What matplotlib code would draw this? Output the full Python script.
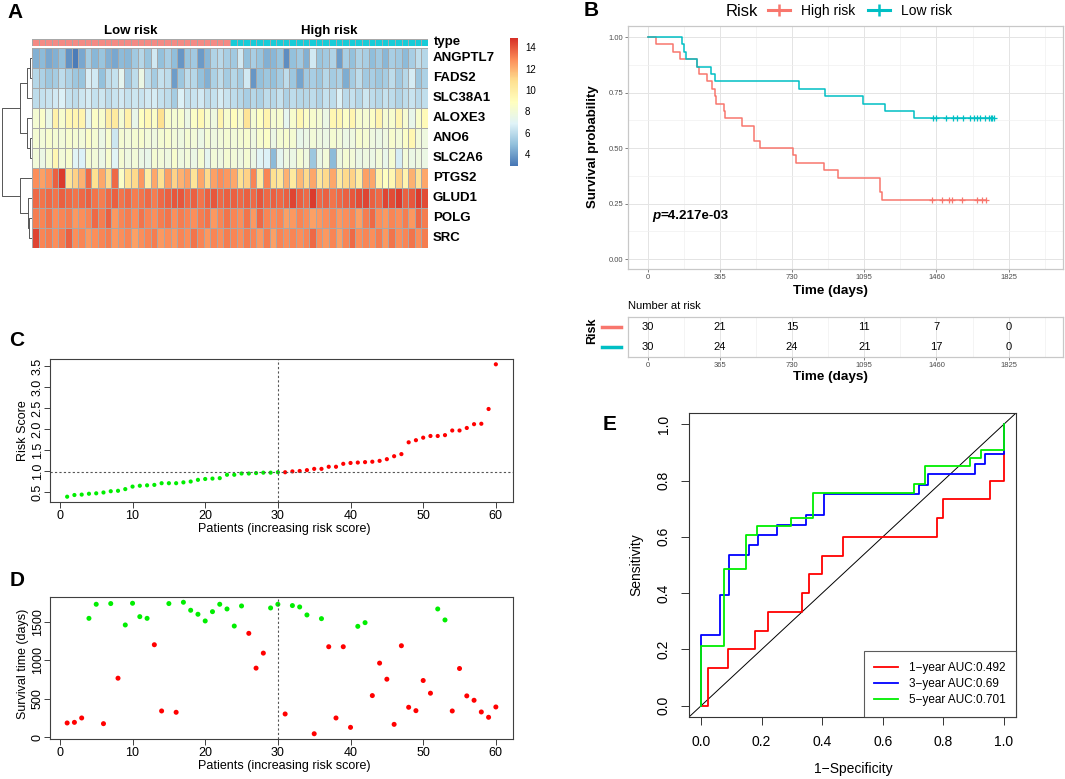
import numpy as np
import matplotlib
matplotlib.use('Agg')
import matplotlib.pyplot as plt
from matplotlib.colors import LinearSegmentedColormap, ListedColormap, Normalize
from matplotlib.cm import ScalarMappable
from matplotlib.lines import Line2D
import matplotlib.transforms as mtransforms

plt.rcParams['font.family'] = ['Liberation Sans', 'DejaVu Sans']

# ---------------- data ----------------
genes = ['ANGPTL7', 'FADS2', 'SLC38A1', 'ALOXE3', 'ANO6', 'SLC2A6', 'PTGS2', 'GLUD1', 'POLG', 'SRC']
group_names = ['Low risk', 'High risk']
n_low, n_high = 30, 30

angptl7 = [4.5, 4.8, 4.3, 4.5, 5.0, 3.7, 3.1, 4.3, 5.4, 4.7, 5.1, 4.5, 4.3, 4.8, 4.7, 5.3, 5.8, 5.1, 6.5, 5.0,
           5.5, 4.9, 3.8, 5.1, 5.3, 3.9, 4.7, 5.7, 5.9, 5.5,
           5.3, 6.5, 5.0, 5.5, 5.1, 4.5, 4.7, 5.1, 3.6, 5.0, 5.3, 4.5, 6.5, 5.1, 5.3, 5.7, 4.0, 5.5, 5.0, 5.7,
           5.5, 4.9, 5.3, 4.7, 5.5, 5.3, 4.8, 5.5, 6.1, 5.8]
fads2 = [5.8, 5.6, 5.2, 5.4, 6.0, 5.6, 5.2, 5.1, 6.7, 6.5, 5.0, 6.0, 6.2, 7.2, 5.3, 6.0, 7.6, 6.0, 5.4, 6.2,
         6.0, 4.0, 5.2, 6.0, 5.8, 5.0, 4.5, 5.6, 6.0, 5.4,
         5.8, 5.4, 6.5, 3.8, 5.0, 5.2, 5.0, 5.4, 6.0, 5.2, 4.2, 5.3, 5.5, 5.2, 5.8, 5.4, 5.6, 4.4, 5.4, 6.0,
         5.3, 5.5, 5.2, 5.4, 6.0, 5.3, 5.8, 6.6, 5.2, 5.6]
slc38a1 = [6.0, 6.2, 6.3, 6.5, 6.8, 6.2, 6.0, 6.4, 6.6, 6.2, 6.4, 6.0, 6.3, 6.5, 6.2, 6.4, 6.3, 6.5, 6.6, 6.2,
           6.0, 5.4, 6.8, 6.2, 6.3, 6.5, 6.0, 6.2, 6.6, 6.3,
           6.0, 5.8, 5.5, 5.8, 5.6, 6.0, 5.8, 6.2, 5.6, 6.0, 5.8, 5.8, 6.0, 5.7, 6.2, 6.0, 6.8, 5.9, 6.2, 5.8,
           6.4, 6.0, 5.8, 6.2, 6.0, 5.7, 6.0, 6.3, 5.9, 6.1]
aloxe3 = [8.2, 8.5, 7.5, 9.8, 8.4, 9.4, 9.5, 9.6, 7.2, 8.6, 8.4, 10.0, 10.2, 8.2, 9.8, 7.4, 8.8, 9.3, 8.6, 10.8,
          8.5, 8.2, 8.4, 7.6, 8.6, 9.3, 8.4, 7.8, 9.6, 8.4,
          9.0, 8.4, 10.6, 8.2, 8.8, 9.6, 8.2, 8.4, 7.2, 8.4, 9.4, 8.6, 8.4, 8.2, 7.6, 9.4, 9.4, 8.6, 9.5, 8.4,
          8.2, 8.6, 9.6, 8.2, 8.4, 9.5, 8.3, 7.4, 8.5, 9.2]
ano6 = [8.2, 8.0, 8.4, 8.2, 8.0, 8.4, 8.2, 8.0, 8.6, 8.2, 7.6, 8.4, 6.4, 8.2, 8.0, 8.2, 8.4, 8.0, 7.8, 8.2,
        8.4, 8.0, 7.8, 8.2, 8.0, 7.6, 8.2, 7.8, 8.0, 8.2,
        8.0, 8.2, 8.4, 7.8, 8.4, 8.6, 7.6, 8.2, 8.4, 8.2, 7.4, 7.6, 8.0, 7.8, 7.6, 8.2, 8.0, 7.6, 7.8, 8.4,
        8.2, 7.8, 7.6, 7.8, 8.4, 8.0, 8.6, 9.4, 8.0, 7.8]
slc2a6 = [8.0, 7.6, 8.2, 9.4, 8.0, 8.4, 7.0, 6.8, 8.2, 8.0, 7.6, 8.4, 7.0, 8.2, 7.8, 8.0, 7.6, 7.4, 8.2, 8.0,
          7.8, 8.4, 7.8, 8.0, 7.6, 8.2, 7.2, 8.0, 7.8, 8.2,
          8.0, 7.8, 8.2, 7.6, 7.0, 6.8, 4.8, 7.2, 7.8, 7.6, 8.2, 7.8, 5.2, 7.6, 8.0, 4.8, 7.8, 8.2, 8.0, 7.6,
          7.8, 7.6, 8.0, 7.4, 8.2, 6.6, 8.0, 7.6, 7.8, 7.6]
ptgs2 = [12.8, 12.4, 12.8, 13.8, 14.6, 10.6, 11.2, 12.0, 13.6, 10.8, 12.2, 11.0, 13.6, 8.6, 10.6, 11.0, 12.6,
         10.0, 12.2, 10.8, 12.4, 11.2, 12.0, 12.4, 10.6, 12.2, 11.0, 12.4, 12.8, 12.6,
         12.2, 10.8, 11.2, 13.0, 10.2, 13.0, 10.8, 10.4, 12.0, 10.2, 11.8, 11.0, 12.2, 10.4, 11.0, 12.2, 10.2,
         11.0, 11.2, 10.0, 12.4, 12.2, 9.6, 8.8, 9.4, 11.2, 9.6, 12.0, 10.6, 12.2]
glud1 = [13.6, 13.4, 13.6, 13.4, 13.8, 13.6, 13.4, 13.6, 13.8, 13.4, 13.2, 13.6, 13.8, 13.4, 13.6, 13.2, 13.4,
         13.6, 13.2, 13.6, 13.8, 14.0, 14.0, 13.6, 13.8, 13.4, 13.8, 14.0, 13.6, 13.8,
         13.8, 13.6, 13.8, 13.6, 14.0, 13.6, 13.8, 13.6, 13.8, 14.4, 13.8, 13.6, 14.6, 13.6, 13.8, 13.4, 13.6,
         13.8, 14.0, 14.2, 14.4, 13.8, 13.6, 14.4, 14.2, 14.6, 13.8, 14.0, 14.6, 14.2]
polg = [13.2, 13.0, 13.4, 12.8, 13.0, 13.2, 12.6, 12.8, 13.0, 13.6, 13.2, 13.8, 12.6, 13.0, 13.2, 12.8, 13.4,
        13.0, 12.8, 13.2, 13.4, 12.8, 13.2, 13.0, 12.8, 13.2, 13.4, 12.6, 13.0, 13.4,
        13.0, 12.8, 13.4, 12.6, 13.6, 13.0, 12.8, 13.0, 12.4, 12.6, 13.0, 12.8, 12.4, 12.6, 12.8, 13.0, 12.6,
        12.8, 13.0, 12.4, 13.2, 13.6, 12.8, 12.6, 13.0, 12.8, 13.2, 12.6, 13.6, 13.2]
src = [14.4, 13.0, 13.2, 12.8, 13.2, 13.8, 12.8, 13.0, 12.6, 12.8, 13.0, 13.2, 12.6, 12.8, 13.0, 12.4, 12.8,
       13.0, 13.2, 12.6, 12.8, 12.6, 13.0, 12.8, 13.4, 13.0, 12.6, 13.0, 12.8, 13.2,
       13.0, 12.8, 13.2, 13.0, 12.6, 13.2, 12.4, 13.0, 12.8, 13.0, 12.8, 13.0, 13.6, 12.8, 12.6, 13.0, 12.4,
       13.0, 13.6, 12.8, 13.0, 12.8, 13.2, 12.6, 13.4, 12.8, 13.0, 13.4, 12.8, 13.2]

# dendrogram merges: (left, right, height); leaves 0..9, new nodes 10..
row_merges = [(0, 1, 0.08), (10, 2, 0.16), (4, 5, 0.08), (3, 12, 0.17), (11, 13, 0.40),
              (8, 9, 0.09), (7, 15, 0.15), (6, 16, 0.40), (14, 17, 1.0)]
cbar_ticks = [4, 6, 8, 10, 12, 14]
heat_range = (2.9, 14.85)

risk_score = [0.40, 0.44, 0.45, 0.47, 0.48, 0.50, 0.53, 0.54, 0.58, 0.64, 0.66, 0.67, 0.68, 0.72, 0.72,
              0.72, 0.74, 0.76, 0.80, 0.82, 0.83, 0.84, 0.92, 0.92, 0.95, 0.95, 0.96, 0.97, 0.97, 0.98,
              0.98, 1.00, 1.01, 1.03, 1.06, 1.06, 1.11, 1.11, 1.18, 1.20, 1.21, 1.22, 1.23, 1.25, 1.29,
              1.36, 1.41, 1.69, 1.74, 1.80, 1.84, 1.84, 1.86, 1.97, 1.97, 2.03, 2.12, 2.13, 2.48, 3.54]
surv_time = [183, 191, 248, 1543, 1726, 174, 1735, 765, 1457, 1739, 1565, 1543, 1200, 339, 1735, 322, 1752,
             1648, 1596, 1509, 1630, 1726, 1665, 1443, 1704, 1348, 896, 1091, 1678, 1726,
             300, 1709, 1691, 1587, 43, 1539, 1174, 248, 1174, 126, 1439, 1487, 539, 961, 752, 165, 1187,
             387, 343, 735, 570, 1665, 1522, 339, 891, 535, 478, 326, 257, 391]
surv_status = [1, 1, 1, 0, 0, 1, 0, 1, 0, 0, 0, 0, 1, 1, 0, 1, 0, 0, 0, 0, 0, 0, 0, 0, 0, 1, 1, 1, 0, 0,
               1, 0, 0, 0, 1, 0, 1, 1, 1, 1, 0, 0, 1, 1, 1, 1, 1, 1, 1, 1, 1, 0, 0, 1, 1, 1, 1, 1, 1, 1]
km_breaks = [0, 365, 730, 1095, 1460, 1825]
p_text = '=4.217e-03'

roc1_fpr = [0, 0.022, 0.088, 0.177, 0.222, 0.333, 0.355, 0.399, 0.467, 0.778, 0.799, 0.955, 1.0]
roc1_tpr = [0, 0.133, 0.200, 0.267, 0.333, 0.400, 0.467, 0.533, 0.600, 0.667, 0.733, 0.800, 1.0]
roc3_fpr = [0, 0, 0.063, 0.093, 0.157, 0.189, 0.251, 0.345, 0.407, 0.720, 0.749, 0.905, 0.938, 1.0]
roc3_tpr = [0, 0.250, 0.393, 0.536, 0.572, 0.605, 0.643, 0.678, 0.751, 0.785, 0.822, 0.858, 0.893, 1.0]
roc5_fpr = [0, 0, 0.074, 0.148, 0.184, 0.296, 0.370, 0.704, 0.738, 0.889, 0.925, 1.0]
roc5_tpr = [0, 0.213, 0.485, 0.607, 0.638, 0.667, 0.757, 0.789, 0.850, 0.880, 0.909, 1.0]
roc_labels = ['1\u2212year AUC:0.492', '3\u2212year AUC:0.69', '5\u2212year AUC:0.701']

# ---------------- figure helpers ----------------
W, H = 1065, 779
fig = plt.figure(figsize=(W / 100, H / 100), dpi=100)


def rect(l, t, w, h):
    return [l / W, 1 - (t + h) / H, w / W, h / H]


def ftext(x, y, s, **kw):
    return fig.text(x / W, 1 - y / H, s, **kw)


for lab, (x, y) in zip('ABCDE', [(15, 12), (591, 11), (17, 341), (17, 581), (610, 424)]):
    ftext(x, y, lab, fontsize=15, fontweight='bold', ha='center', va='center')

# ---------------- A: heatmap ----------------
M = np.array([angptl7, fads2, slc38a1, aloxe3, ano6, slc2a6, ptgs2, glud1, polg, src])
ncol = M.shape[1]
cmap = LinearSegmentedColormap.from_list(
    'rdylbu', ['#4575B4', '#91BFDB', '#E0F3F8', '#FFFFBF', '#FEE090', '#FC8D59', '#D73027'])
norm = Normalize(*heat_range)

hm_l, hm_t, hm_w, hm_h = 32, 48, 396, 200
ax_hm = fig.add_axes(rect(hm_l, hm_t, hm_w, hm_h))
ax_hm.pcolormesh(np.arange(ncol + 1), np.arange(len(genes) + 1), M, cmap=cmap, norm=norm,
                 edgecolors='#A8A8A8', linewidth=0.5)
ax_hm.set_xlim(0, ncol)
ax_hm.set_ylim(len(genes), 0)
ax_hm.axis('off')
tr = mtransforms.blended_transform_factory(ax_hm.transAxes, ax_hm.transData)
for i, g in enumerate(genes):
    ax_hm.text(1 + 5 / hm_w, i + 0.5, g, transform=tr, fontsize=9.5, fontweight='bold',
               ha='left', va='center')

# annotation bar
ax_an = fig.add_axes(rect(hm_l, 39, hm_w, 7))
grp = np.array([[0] * n_low + [1] * n_high])
ax_an.pcolormesh(np.arange(ncol + 1), [0, 1], grp, cmap=ListedColormap(['#F48A84', '#17CCD8']),
                 edgecolors='#A8A8A8', linewidth=0.5)
ax_an.set_xlim(0, ncol)
ax_an.axis('off')
ftext(hm_l + hm_w * (n_low / 2) / ncol, 31, group_names[0], fontsize=9.5, fontweight='bold',
      ha='center', va='center')
ftext(hm_l + hm_w * (n_low + n_high / 2) / ncol, 31, group_names[1], fontsize=9.5, fontweight='bold',
      ha='center', va='center')
ftext(434, 42, 'type', fontsize=9.5, fontweight='bold', ha='left', va='center')

# colorbar
cax = fig.add_axes(rect(510, 38, 8, 128))
cb = fig.colorbar(ScalarMappable(norm=norm, cmap=cmap), cax=cax, ticks=cbar_ticks)
cb.outline.set_visible(False)
cax.tick_params(labelsize=7, length=2, width=0.5, color='white', pad=3)

# dendrogram
ax_dg = fig.add_axes(rect(0, hm_t, 32, hm_h))
pos = {i: i + 0.5 for i in range(len(genes))}
hgt = {i: 0.0 for i in range(len(genes))}
for k, (a, b, h) in enumerate(row_merges):
    nid = len(genes) + k
    ax_dg.plot([hgt[a], h, h, hgt[b]], [pos[a], pos[a], pos[b], pos[b]], color='#555555', lw=0.7)
    pos[nid] = (pos[a] + pos[b]) / 2
    hgt[nid] = h
ax_dg.set_xlim(1.07, 0)
ax_dg.set_ylim(len(genes), 0)
ax_dg.axis('off')

# ---------------- B: Kaplan-Meier ----------------
times = np.array(surv_time)
status = np.array(surv_status)
is_high = np.array([False] * n_low + [True] * n_high)
km_cols = {'High risk': '#F8766D', 'Low risk': '#00BFC4'}


def km_curve(t, e):
    order = np.argsort(t, kind='stable')
    t = t[order]
    e = e[order]
    n = len(t)
    xs, ys = [0.0], [1.0]
    ct, cs = [], []
    s = 1.0
    at_risk = n
    i = 0
    while i < n:
        j = i
        d = c = 0
        while j < n and t[j] == t[i]:
            if e[j]:
                d += 1
            else:
                c += 1
            j += 1
        if d:
            s *= 1 - d / at_risk
            xs.append(t[i])
            ys.append(s)
        if c:
            ct.append(t[i])
            cs.append(s)
        at_risk -= d + c
        i = j
    xs.append(t[-1])
    ys.append(s)
    return xs, ys, ct, cs


ax_km = fig.add_axes(rect(628, 26, 435, 243))
for name, mask in [('High risk', is_high), ('Low risk', ~is_high)]:
    xs, ys, ct, cs = km_curve(times[mask], status[mask])
    ax_km.step(xs, ys, where='post', color=km_cols[name], lw=1.1)
    ax_km.plot(ct, cs, ls='none', marker='+', ms=5, mew=0.9, color=km_cols[name])
ax_km.set_xlim(-100, 2100)
ax_km.set_ylim(-0.045, 1.05)
ax_km.set_xticks(km_breaks)
ax_km.set_xticks(np.array(km_breaks) + 182.5, minor=True)
ax_km.set_yticks([0, 0.25, 0.5, 0.75, 1.0])
ax_km.set_yticklabels(['0.00', '0.25', '0.50', '0.75', '1.00'])
ax_km.set_yticks([0.125, 0.375, 0.625, 0.875], minor=True)
ax_km.grid(which='major', color='#E4E4E4', lw=0.7)
ax_km.grid(which='minor', color='#F0F0F0', lw=0.5)
ax_km.set_axisbelow(True)
ax_km.tick_params(which='major', labelsize=5.5, labelcolor='#4D4D4D', length=2, width=0.5,
                  color='#4D4D4D', pad=1.5)
ax_km.tick_params(which='minor', length=0)
for sp in ax_km.spines.values():
    sp.set_color('#C8C8C8')
    sp.set_linewidth(0.9)
t1 = ax_km.text(0.055, 0.195, 'p', transform=ax_km.transAxes, fontsize=9.6, fontweight='bold',
                fontstyle='italic', ha='left', va='bottom')
ax_km.annotate(p_text, xy=(1, 0), xycoords=t1, fontsize=9.6, fontweight='bold', ha='left', va='bottom')
ftext(593, 147, 'Survival probability', fontsize=9.5, fontweight='bold', rotation=90,
      ha='center', va='center')
ftext(830, 291, 'Time (days)', fontsize=9.7, fontweight='bold', ha='center', va='center')

# legend
ftext(726, 11, 'Risk', fontsize=12, ha='left', va='center')
handles = [Line2D([], [], color=km_cols[n], lw=2.2, marker='+', ms=8, mew=1.8) for n in ['High risk', 'Low risk']]
fig.legend(handles, ['High risk', 'Low risk'], loc='center left', bbox_to_anchor=(768 / W, 1 - 11 / H),
           ncol=2, frameon=False, fontsize=10, handlelength=1.6, handletextpad=0.8,
           columnspacing=0.9, borderpad=0, borderaxespad=0)

# risk table
ax_tb = fig.add_axes(rect(628, 317, 435, 40))
ax_tb.set_xlim(-100, 2100)
ax_tb.set_ylim(0.5, 2.5)
for row, (name, mask) in zip([2, 1], [('High risk', is_high), ('Low risk', ~is_high)]):
    tg = times[mask]
    for b in km_breaks:
        ax_tb.text(b, row, str(int(np.sum(tg >= b))), fontsize=8, ha='center', va='center')
    ax_tb.plot([-0.06, -0.015], [row, row], color=km_cols[name], lw=2.5, clip_on=False,
               transform=mtransforms.blended_transform_factory(ax_tb.transAxes, ax_tb.transData))
ax_tb.set_xticks(km_breaks)
ax_tb.set_xticks(np.array(km_breaks) + 182.5, minor=True)
ax_tb.set_yticks([])
ax_tb.grid(which='major', axis='x', color='#E4E4E4', lw=0.7)
ax_tb.grid(which='minor', axis='x', color='#F0F0F0', lw=0.5)
ax_tb.set_axisbelow(True)
ax_tb.tick_params(which='major', labelsize=5.5, labelcolor='#4D4D4D', length=2, width=0.5,
                  color='#4D4D4D', pad=1.5)
ax_tb.tick_params(which='minor', length=0)
for sp in ax_tb.spines.values():
    sp.set_color('#C8C8C8')
    sp.set_linewidth(0.9)
ftext(628, 306, 'Number at risk', fontsize=8, ha='left', va='center')
ftext(592, 331, 'Risk', fontsize=9, fontweight='bold', rotation=90, ha='center', va='center')
ftext(830, 377, 'Time (days)', fontsize=9.7, fontweight='bold', ha='center', va='center')

# ---------------- C & D: base-R style scatter ----------------
patients = np.arange(1, len(risk_score) + 1)


def base_axes(ax):
    for sp in ax.spines.values():
        sp.set_color('#404040')
        sp.set_linewidth(0.8)
    ax.tick_params(axis='both', labelsize=9, length=4, width=0.7, color='#404040')
    ax.tick_params(axis='x', pad=1.5)
    ax.tick_params(axis='y', pad=0.5, labelrotation=90)
    for lbl in ax.get_yticklabels():
        lbl.set_va('center')


ax_c = fig.add_axes(rect(50, 359, 463, 143))
rs = np.array(risk_score)
cols_c = np.where(is_high, '#FF0000', '#00EE00')
ax_c.scatter(patients, rs, c=cols_c, s=9, linewidths=0)
ax_c.axhline(np.median(rs), color='#555555', lw=0.8, ls=(0, (2, 2)))
ax_c.axvline(n_low, color='#555555', lw=0.8, ls=(0, (2, 2)))
ax_c.set_xlim(1 - 0.04 * 59, 60 + 0.04 * 59)
ax_c.set_ylim(rs.min() - 0.04 * np.ptp(rs), rs.max() + 0.04 * np.ptp(rs))
ax_c.set_xticks([0, 10, 20, 30, 40, 50, 60])
ax_c.set_yticks([0.5, 1.0, 1.5, 2.0, 2.5, 3.0, 3.5])
base_axes(ax_c)
ftext(23, 431, 'Risk Score', fontsize=9, rotation=90, ha='center', va='center')
ftext(284, 529, 'Patients (increasing risk score)', fontsize=9, ha='center', va='center')

ax_d = fig.add_axes(rect(50, 597, 463, 142))
cols_d = np.where(status == 1, '#FF0000', '#00EE00')
ax_d.scatter(patients, times, c=cols_d, s=13, linewidths=0)
ax_d.axvline(n_low, color='#555555', lw=0.8, ls=(0, (2, 2)))
ax_d.set_xlim(1 - 0.04 * 59, 60 + 0.04 * 59)
ax_d.set_ylim(times.min() - 0.04 * np.ptp(times), times.max() + 0.04 * np.ptp(times))
ax_d.set_xticks([0, 10, 20, 30, 40, 50, 60])
ax_d.set_yticks([0, 500, 1000, 1500])
base_axes(ax_d)
ftext(23, 664, 'Survival time (days)', fontsize=9, rotation=90, ha='center', va='center')
ftext(284, 766, 'Patients (increasing risk score)', fontsize=9, ha='center', va='center')

# ---------------- E: ROC ----------------
ax_e = fig.add_axes(rect(689, 413, 327, 304))
ax_e.axline((0, 0), (1, 1), color='black', lw=0.7)
for fpr, tpr, col, lab in [(roc1_fpr, roc1_tpr, '#FF0000', roc_labels[0]),
                           (roc3_fpr, roc3_tpr, '#0000FF', roc_labels[1]),
                           (roc5_fpr, roc5_tpr, '#00EE00', roc_labels[2])]:
    ax_e.plot(fpr, tpr, drawstyle='steps-post', color=col, lw=1.3, label=lab)
ax_e.set_xlim(-0.04, 1.04)
ax_e.set_ylim(-0.04, 1.04)
ticks = [0, 0.2, 0.4, 0.6, 0.8, 1.0]
ax_e.set_xticks(ticks)
ax_e.set_yticks(ticks)
ax_e.set_xticklabels([f'{v:.1f}' for v in ticks])
ax_e.set_yticklabels([f'{v:.1f}' for v in ticks])
for sp in ax_e.spines.values():
    sp.set_color('#333333')
    sp.set_linewidth(0.8)
ax_e.tick_params(axis='both', labelsize=10, length=6, width=0.7, color='#333333', pad=7)
ax_e.tick_params(axis='y', labelrotation=90)
for lbl in ax_e.get_yticklabels():
    lbl.set_va('center')
leg = ax_e.legend(loc='lower right', fontsize=8.5, frameon=True, fancybox=False, edgecolor='#333333',
                  borderaxespad=0, handlelength=2.0, handletextpad=0.9, borderpad=0.9, labelspacing=0.35)
leg.get_frame().set_linewidth(0.8)
ftext(636, 565, 'Sensitivity', fontsize=10, rotation=90, ha='center', va='center')
ftext(853, 769, '1\u2212Specificity', fontsize=10, ha='center', va='center')

fig.savefig('out.png', dpi=100)
